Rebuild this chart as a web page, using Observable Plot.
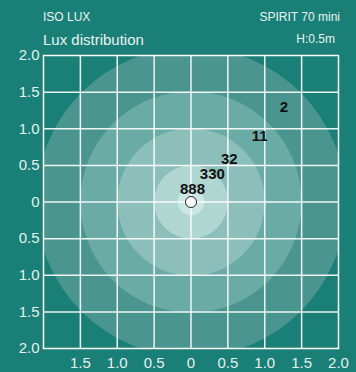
<!DOCTYPE html>
<html>
<head>
<meta charset="utf-8">
<script src="https://cdn.jsdelivr.net/npm/d3@7"></script>
<script src="https://cdn.jsdelivr.net/npm/@observablehq/plot@0.6"></script>
<style>
  html, body { margin: 0; padding: 0; background: #1a8077; }
  body { width: 356px; height: 372px; overflow: hidden; font-family: "Liberation Sans", Arial, sans-serif; color: #e8f3f1; }
  #head { position: relative; width: 356px; height: 38px; }
  #head span { position: absolute; line-height: 1; white-space: nowrap; }
  svg { display: block; }
</style>
</head>
<body>
<div id="head">
  <span style="left:43px; top:10.8px; font-size:12px;">ISO LUX</span>
  <span style="right:16px; top:10.8px; font-size:12px;">SPIRIT 70 mini</span>
  <span style="left:43px; top:31.6px; font-size:15px;">Lux distribution</span>
  <span style="right:21px; top:33px; font-size:12px;">H:0.5m</span>
</div>
<div id="chart"></div>
<script>
// ---- data ----
const sourceX = [0];
const sourceY = [0];
const bandRadii = [2.1, 1.5, 1.0, 0.5, 0.18];          // metres
const bandFills = ["#4a958f", "#6aaba5", "#8cbfba", "#b0d6d2", "#cbe7e4"];
const luxLabels = ["888", "330", "32", "11", "2"];
const labelX = [0.02, 0.29, 0.52, 0.93, 1.26];
const labelY = [0.17, 0.38, 0.59, 0.90, 1.29];
const xTicks = [-1.5, -1.0, -0.5, 0, 0.5, 1.0, 1.5, 2.0];
const yTicks = [-2.0, -1.5, -1.0, -0.5, 0, 0.5, 1.0, 1.5, 2.0];
const gridValues = [-1.5, -1.0, -0.5, 0, 0.5, 1.0, 1.5];

// ---- build ----
const bands = bandRadii.map((r, i) => ({x: sourceX[0], y: sourceY[0], r, fill: bandFills[i]}));
const labels = luxLabels.map((t, i) => ({x: labelX[i], y: labelY[i], t}));
const sources = sourceX.map((x, i) => ({x, y: sourceY[i]}));

const width = 356, height = 334;
const mL = 43, mR = 18, mT = 17, mB = 24;
const pxPerUnit = (width - mL - mR) / 4;
const fmt = d => d === 0 ? "0" : Math.abs(d).toFixed(1);

const chart = Plot.plot({
  width, height,
  marginLeft: mL, marginRight: mR, marginTop: mT, marginBottom: mB,
  style: {background: "transparent", color: "#e3f0ee", fontFamily: "Liberation Sans, Arial, sans-serif"},
  x: {domain: [-2, 2]},
  y: {domain: [-2, 2]},
  r: {type: "linear", domain: [0, 1], range: [0, pxPerUnit]},
  marks: [
    Plot.dot(bands, {x: "x", y: "y", r: "r", fill: d => d.fill, stroke: null, clip: true}),
    Plot.ruleX(gridValues, {stroke: "white", strokeWidth: 1.5, strokeOpacity: 0.9}),
    Plot.ruleY(gridValues, {stroke: "white", strokeWidth: 1.5, strokeOpacity: 0.9}),
    Plot.frame({stroke: "white", strokeWidth: 1.5}),
    Plot.axisX(xTicks, {tickFormat: fmt, tickSize: 0, tickPadding: 9, fontSize: 15, label: null}),
    Plot.axisY(yTicks, {tickFormat: fmt, tickSize: 0, tickPadding: 4, fontSize: 15, label: null}),
    Plot.text(labels, {x: "x", y: "y", text: "t", fontSize: 15, fontWeight: "bold", fill: "#111"}),
    Plot.dot(sources, {x: "x", y: "y", r: 5.5, fill: "white", stroke: "#222", strokeWidth: 1})
  ]
});
document.getElementById("chart").appendChild(chart);
</script>
</body>
</html>
